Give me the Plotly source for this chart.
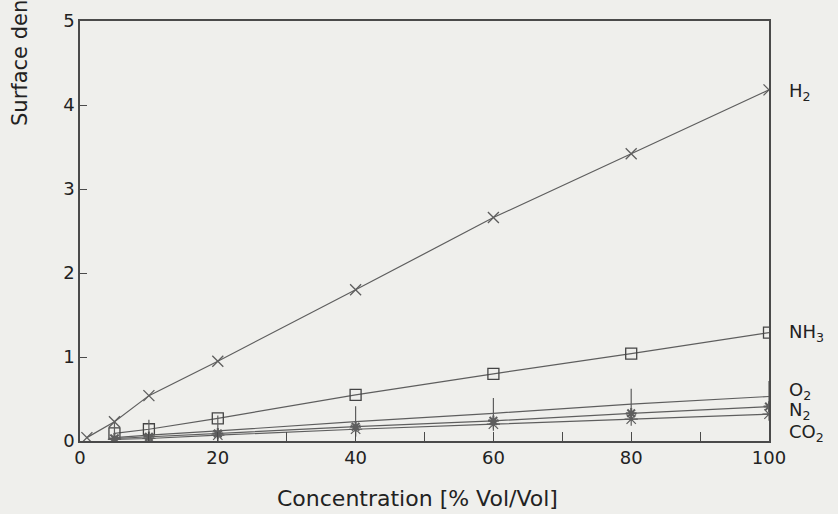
import plotly.graph_objects as go

# Data
conc_h2 = [1, 5, 10, 20, 40, 60, 80, 100]
h2 = [0.04, 0.23, 0.54, 0.95, 1.80, 2.66, 3.42, 4.18]

conc = [5, 10, 20, 40, 60, 80, 100]
nh3 = [0.09, 0.14, 0.27, 0.55, 0.80, 1.04, 1.29]
o2 = [0.04, 0.07, 0.12, 0.23, 0.33, 0.44, 0.53]
n2 = [0.03, 0.05, 0.09, 0.17, 0.24, 0.33, 0.41]
co2 = [0.02, 0.03, 0.07, 0.14, 0.20, 0.26, 0.32]

series_labels = ["H<sub>2</sub>", "NH<sub>3</sub>", "O<sub>2</sub>", "N<sub>2</sub>", "CO<sub>2</sub>"]
label_y = [4.16, 1.29, 0.60, 0.36, 0.10]

ink = "#4a4a4a"
txt = "#222222"
bg = "#efefec"
font_family = "DejaVu Sans, Liberation Sans, sans-serif"

W, H = 838, 514
ML, MR, MT, MB = 80, 69, 21, 73
PW, PH = W - ML - MR, H - MT - MB

fig = go.Figure()

line_style = dict(color="#5e5e5e", width=1.2)

fig.add_trace(go.Scatter(x=conc_h2, y=h2, mode="lines+markers", line=line_style,
                         marker=dict(symbol="x-thin-open", size=11, line=dict(color="#444", width=1.3))))
fig.add_trace(go.Scatter(x=conc, y=nh3, mode="lines+markers", line=line_style,
                         marker=dict(symbol="square-open", size=11, color="#444", line=dict(width=1.3))))
fig.add_trace(go.Scatter(x=conc, y=o2, mode="lines+markers", line=line_style,
                         marker=dict(symbol="line-ns-open", size=22, line=dict(color="#444", width=1.2))))
fig.add_trace(go.Scatter(x=conc, y=n2, mode="lines+markers", line=line_style,
                         marker=dict(symbol="asterisk-open", size=9, line=dict(color="#333", width=2))))
fig.add_trace(go.Scatter(x=conc, y=co2, mode="lines+markers", line=line_style,
                         marker=dict(symbol="asterisk-open", size=11, line=dict(color="#444", width=1.2))))

for lab, yv in zip(series_labels, label_y):
    fig.add_annotation(x=1.0, xref="paper", y=yv, yref="y", text=lab, showarrow=False,
                       xanchor="left", xshift=18, font=dict(family=font_family, size=18, color=txt))

# y-axis title (cut off by the page top, as in the reference)
fig.add_annotation(x=-(ML - 20) / PW, xref="paper", y=(H - MB - 128) / PH, yref="paper",
                   text="Surface density", showarrow=False, textangle=-90,
                   xanchor="center", yanchor="bottom",
                   font=dict(family=font_family, size=21, color=txt))

# x-axis title
fig.add_annotation(x=(417 - ML) / PW, xref="paper", y=(H - MB - 498) / PH, yref="paper",
                   text="Concentration [% Vol/Vol]", showarrow=False,
                   xanchor="center", yanchor="middle",
                   font=dict(family=font_family, size=22, color=txt))

fig.update_layout(
    width=W, height=H,
    margin=dict(l=ML, r=MR, t=MT, b=MB, autoexpand=False),
    paper_bgcolor=bg, plot_bgcolor=bg,
    showlegend=False,
    xaxis=dict(range=[0, 100], dtick=20, tick0=0, ticks="inside", ticklen=9,
               tickcolor=ink, showline=True, linecolor=ink, linewidth=1.5, mirror=True,
               minor=dict(dtick=10, tick0=0, ticks="inside", ticklen=9, tickcolor=ink, showgrid=False),
               showgrid=False, zeroline=False,
               tickfont=dict(family=font_family, size=18, color=txt)),
    yaxis=dict(range=[0, 5], dtick=1, ticks="inside", ticklen=7, tickcolor=ink,
               showline=True, linecolor=ink, linewidth=1.5, mirror=True,
               showgrid=False, zeroline=False,
               tickfont=dict(family=font_family, size=18, color=txt)),
)

fig.write_html("out.html", config={"displayModeBar": False},
               post_script="document.body.style.margin='0px';document.body.style.background='#efefec';")
